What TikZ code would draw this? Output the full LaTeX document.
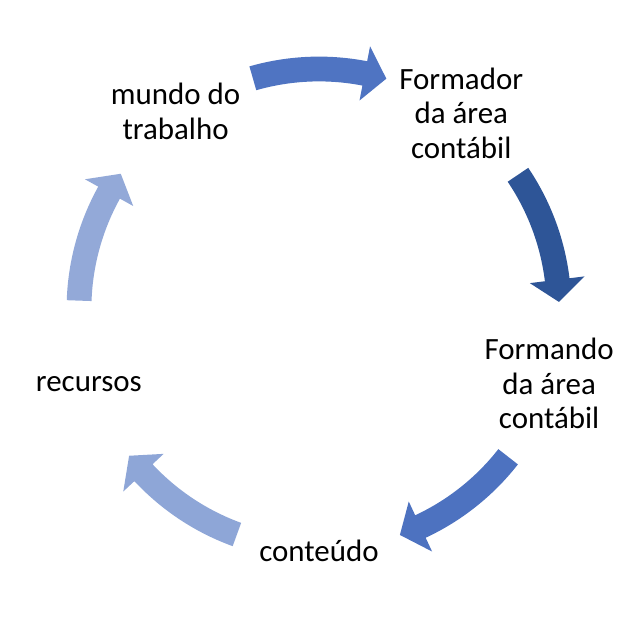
\documentclass[tikz,border=0pt]{standalone}
\usepackage{fontspec}
\setmainfont{Carlito}
\definecolor{arrowA}{HTML}{4F74C2}
\definecolor{arrowB}{HTML}{2E5597}
\definecolor{arrowC}{HTML}{4D72C0}
\definecolor{arrowD}{HTML}{8EA6D7}
\definecolor{arrowE}{HTML}{93A9D8}
\begin{document}
\begin{tikzpicture}[
    stage/.style={align=center, inner sep=0pt, font=\fontsize{22}{24.6}\selectfont},
  ]
  \useasboundingbox (-7.975,-8.225) rectangle (7.975,7.725);
  \coordinate (c) at (0,0);
  \node[stage] (mundo) at (126:6.1) {mundo do\\trabalho};
  \node[stage] (formador) at (54:6.05) {Formador\\da área\\contábil};
  \node[stage] (formando) at (-18:6.05) {Formando\\da área\\contábil};
  \node[stage] (conteudo) at (-90:6.05) {conteúdo};
  \node[stage] (recursos) at (198:6.05) {recursos};
  \foreach \ang/\col in {90/arrowA, 18/arrowB, -54/arrowC, -126/arrowD, 162/arrowE}
    \fill[\col] ({\ang+16}:6.31) arc[start angle=\ang+16, end angle=\ang-11, radius=6.31]
      -- ({\ang-11}:6.69) -- ({\ang-16.3}:6) -- ({\ang-11}:5.31) -- ({\ang-11}:5.69)
      arc[start angle=\ang-11, end angle=\ang+16, radius=5.69] -- cycle;
\end{tikzpicture}
\end{document}
